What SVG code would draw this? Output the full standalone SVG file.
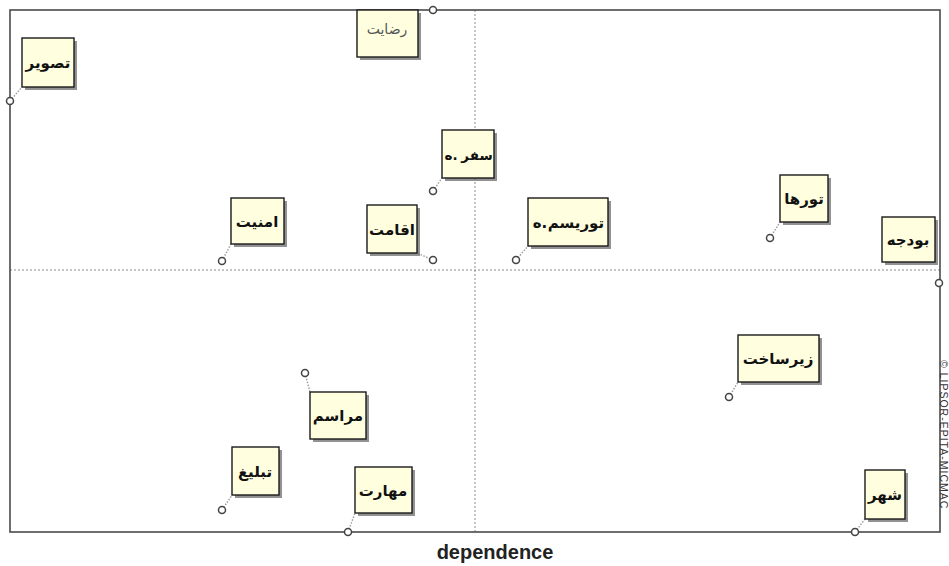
<svg xmlns="http://www.w3.org/2000/svg" width="949" height="566" viewBox="0 0 949 566">
<style>
.frame{fill:none;stroke:#4a4a4a;stroke-width:1.6}
.axis{stroke:#8a8a8a;stroke-width:1;stroke-dasharray:2 2;fill:none}
.box{fill:#ffffe0;stroke:#1a1a1a;stroke-width:1.4}
.shadow{fill:#6e6e6e;opacity:0.75}
.lbl{font-family:"DejaVu Sans","Noto Sans",sans-serif;font-weight:bold;font-size:15px;fill:#111;text-anchor:middle}
.sm{font-size:13.5px}
.lbl2{font-family:"DejaVu Sans","Noto Sans",sans-serif;font-weight:normal;font-size:14px;fill:#555;text-anchor:middle}
.pt{fill:#fff;stroke:#444;stroke-width:1.5}
.conn{stroke:#9a9a9a;stroke-width:1.4;stroke-dasharray:1.5 1.5;fill:none}
.title{font-family:"Liberation Sans",Arial,sans-serif;font-weight:bold;font-size:20px;fill:#222;text-anchor:middle}
.copy{font-family:"Liberation Sans",Arial,sans-serif;font-size:10.5px;letter-spacing:1px;fill:#333}
</style>
<rect x="0" y="0" width="949" height="566" fill="#fff"/>
<g id="axes">
<line class="axis" x1="475" y1="10" x2="475" y2="532"/>
<line class="axis" x1="10" y1="270" x2="940" y2="270"/>
<rect class="frame" x="10" y="10" width="930" height="522"/>
</g>
<g id="connectors">
<line class="conn" x1="10" y1="101" x2="22" y2="87"/>
<line class="conn" x1="433" y1="191" x2="442" y2="178"/>
<line class="conn" x1="433" y1="260" x2="417" y2="253"/>
<line class="conn" x1="516" y1="260" x2="528" y2="246"/>
<line class="conn" x1="222" y1="261" x2="231" y2="244"/>
<line class="conn" x1="770" y1="238" x2="780" y2="222"/>
<line class="conn" x1="729" y1="397" x2="738" y2="382"/>
<line class="conn" x1="855" y1="532" x2="865" y2="519"/>
<line class="conn" x1="305" y1="373" x2="310" y2="392"/>
<line class="conn" x1="222" y1="510" x2="232" y2="495"/>
<line class="conn" x1="348" y1="532" x2="355" y2="513"/>
</g>
<g id="n-tasvir">
<rect class="shadow" x="25" y="41" width="52" height="49"/>
<rect class="box" x="22" y="38" width="52" height="49"/>
<text class="lbl" x="48" y="68">تصویر</text>
<circle class="pt" cx="10" cy="101" r="3.5"/>
</g>
<g id="n-rezayat">
<rect class="shadow" x="360" y="13" width="61" height="47"/>
<rect class="box" x="357" y="10" width="61" height="47"/>
<text class="lbl2" x="387" y="34">رضایت</text>
<circle class="pt" cx="433" cy="10" r="3.5"/>
</g>
<g id="n-safar">
<rect class="shadow" x="445" y="133" width="52" height="48"/>
<rect class="box" x="442" y="130" width="52" height="48"/>
<text class="lbl sm" x="451" y="160">ه.</text>
<text class="lbl sm" x="477" y="160">سفر</text>
<circle class="pt" cx="433" cy="191" r="3.5"/>
</g>
<g id="n-eghamat">
<rect class="shadow" x="370" y="208" width="50" height="48"/>
<rect class="box" x="367" y="205" width="50" height="48"/>
<text class="lbl" x="392" y="235">اقامت</text>
<circle class="pt" cx="433" cy="260" r="3.5"/>
</g>
<g id="n-tourism">
<rect class="shadow" x="531" y="201" width="80" height="48"/>
<rect class="box" x="528" y="198" width="80" height="48"/>
<text class="lbl" x="540" y="228">ه.</text>
<text class="lbl" x="576" y="228">توریسم</text>
<circle class="pt" cx="516" cy="260" r="3.5"/>
</g>
<g id="n-amniat">
<rect class="shadow" x="234" y="201" width="53" height="46"/>
<rect class="box" x="231" y="198" width="53" height="46"/>
<text class="lbl" x="257" y="227">امنیت</text>
<circle class="pt" cx="222" cy="261" r="3.5"/>
</g>
<g id="n-tourha">
<rect class="shadow" x="783" y="178" width="48" height="47"/>
<rect class="box" x="780" y="175" width="48" height="47"/>
<text class="lbl" x="804" y="204">تورها</text>
<circle class="pt" cx="770" cy="238" r="3.5"/>
</g>
<g id="n-budjeh">
<rect class="shadow" x="885" y="220" width="53" height="45"/>
<rect class="box" x="882" y="217" width="53" height="45"/>
<text class="lbl" x="908" y="245">بودجه</text>
<circle class="pt" cx="939" cy="283" r="3.5"/>
</g>
<g id="n-zirsakht">
<rect class="shadow" x="741" y="338" width="81" height="47"/>
<rect class="box" x="738" y="335" width="81" height="47"/>
<text class="lbl" x="778" y="364">زیرساخت</text>
<circle class="pt" cx="729" cy="397" r="3.5"/>
</g>
<g id="n-shahr">
<rect class="shadow" x="868" y="473" width="40" height="49"/>
<rect class="box" x="865" y="470" width="40" height="49"/>
<text class="lbl" x="885" y="500">شهر</text>
<circle class="pt" cx="855" cy="532" r="3.5"/>
</g>
<g id="n-marasem">
<rect class="shadow" x="313" y="395" width="56" height="47"/>
<rect class="box" x="310" y="392" width="56" height="47"/>
<text class="lbl" x="338" y="421">مراسم</text>
<circle class="pt" cx="305" cy="373" r="3.5"/>
</g>
<g id="n-tabligh">
<rect class="shadow" x="235" y="450" width="47" height="48"/>
<rect class="box" x="232" y="447" width="47" height="48"/>
<text class="lbl" x="255" y="477">تبلیغ</text>
<circle class="pt" cx="222" cy="510" r="3.5"/>
</g>
<g id="n-maharat">
<rect class="shadow" x="358" y="470" width="57" height="46"/>
<rect class="box" x="355" y="467" width="57" height="46"/>
<text class="lbl" x="383" y="496">مهارت</text>
<circle class="pt" cx="348" cy="532" r="3.5"/>
</g>
<text class="title" x="495" y="559">dependence</text>
<text class="copy" transform="translate(940,360) rotate(90)">© LIPSOR-EPITA-MICMAC</text>
</svg>
